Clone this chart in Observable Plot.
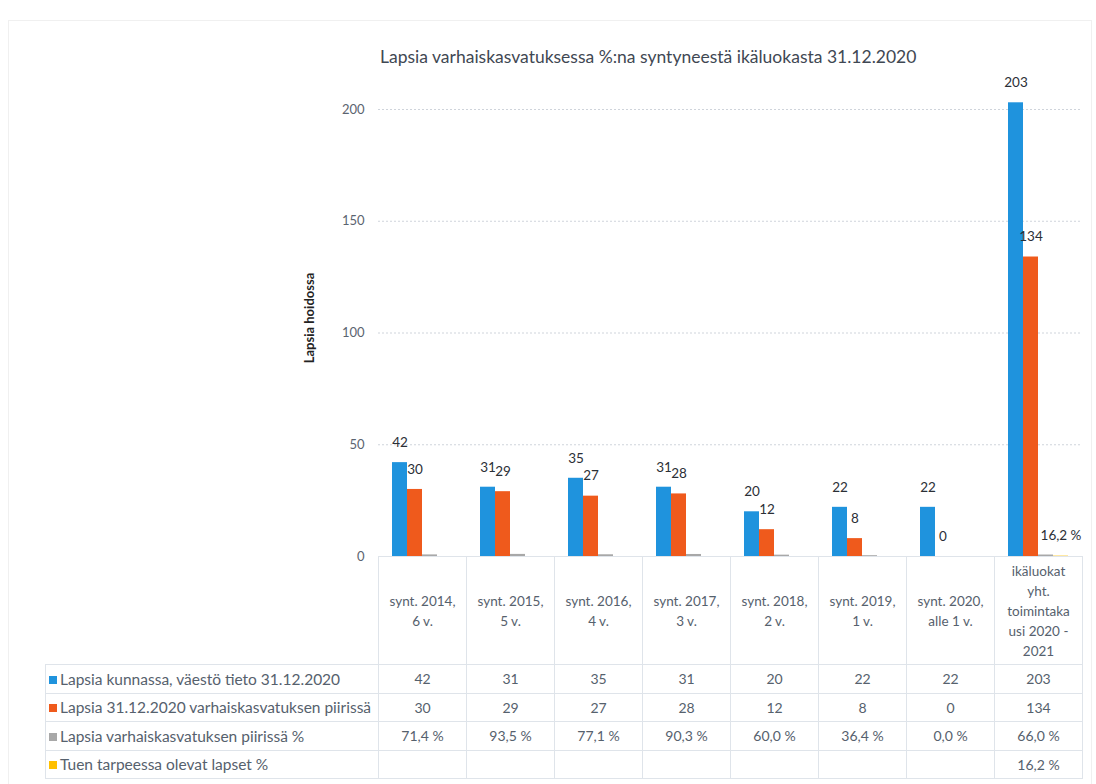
<!DOCTYPE html>
<html>
<head>
<meta charset="utf-8">
<script src="https://cdn.jsdelivr.net/npm/d3@7"></script>
<script src="https://cdn.jsdelivr.net/npm/@observablehq/plot@0.6"></script>
<style>
  html, body { margin: 0; padding: 0; background: #fff; }
  #wrap { position: relative; width: 1096px; height: 784px; font-family: Lato, "Open Sans", sans-serif; overflow: hidden; }
  #frame { position: absolute; left: 8px; top: 20px; width: 1082px; height: 770px; border: 1px solid #f0f0f0; }
  #title { position: absolute; left: 380px; top: 46px; font-size: 17.5px; color: #3f4853; white-space: nowrap; }
  #chart { position: absolute; left: 0; top: 60px; }
  #tbl { position: absolute; border-collapse: collapse; table-layout: fixed; font-size: 14px; color: #56616d; }
  #tbl td { border: 1px solid #dfe4ea; text-align: center; padding: 0; }
  #tbl td.hdr { white-space: pre-line; line-height: 20px; vertical-align: middle; font-size: 13.5px; }
  #tbl td.lab { text-align: left; padding-left: 3px; white-space: nowrap; font-size: 15.5px; }
  #tbl td.blank { border: none; }
  .key { display: inline-block; width: 8px; height: 8px; margin-right: 3px; vertical-align: 1px; }
</style>
</head>
<body>
<div id="wrap">
  <div id="frame"></div>
  <div id="title">Lapsia varhaiskasvatuksessa %:na syntyneestä ikäluokasta 31.12.2020</div>
  <div id="chart"></div>
</div>
<script>
// ---- data ----
const categories = [
  "synt. 2014,\n6 v.",
  "synt. 2015,\n5 v.",
  "synt. 2016,\n4 v.",
  "synt. 2017,\n3 v.",
  "synt. 2018,\n2 v.",
  "synt. 2019,\n1 v.",
  "synt. 2020,\nalle 1 v.",
  "ikäluokat\nyht.\ntoimintaka\nusi 2020 -\n2021"
];
const seriesNames = [
  "Lapsia kunnassa, väestö tieto 31.12.2020",
  "Lapsia 31.12.2020 varhaiskasvatuksen piirissä",
  "Lapsia varhaiskasvatuksen piirissä %",
  "Tuen tarpeessa olevat lapset %"
];
const seriesColors = ["#1f93dd", "#ef5a1c", "#a8a8a8", "#ffc000"];
const lapsiaKunnassa = [42, 31, 35, 31, 20, 22, 22, 203];
const lapsiaPiirissa = [30, 29, 27, 28, 12, 8, 0, 134];
const piirissaPct = [71.4, 93.5, 77.1, 90.3, 60.0, 36.4, 0.0, 66.0];
const tukiPct = [null, null, null, null, null, null, null, 16.2];
const yTicks = [0, 50, 100, 150, 200];
const yLabel = "Lapsia hoidossa";

// ---- build table for the library ----
const fmtPct = v => v == null ? "" : v.toFixed(1).replace(".", ",") + " %";
const rows = [];
categories.forEach((c, i) => {
  rows.push({cat: c, series: seriesNames[0], value: lapsiaKunnassa[i], label: String(lapsiaKunnassa[i])});
  rows.push({cat: c, series: seriesNames[1], value: lapsiaPiirissa[i], label: String(lapsiaPiirissa[i])});
  rows.push({cat: c, series: seriesNames[2], value: piirissaPct[i] / 100, label: ""});
  if (tukiPct[i] != null) rows.push({cat: c, series: seriesNames[3], value: tukiPct[i] / 100, label: fmtPct(tukiPct[i])});
});

const svgTop = 60;
const chart = Plot.plot({
  width: 1096,
  height: 497,
  marginLeft: 376,
  marginRight: 12,
  marginTop: 49,
  marginBottom: 1,
  style: {background: "transparent", overflow: "visible", fontFamily: "Lato, 'Open Sans', sans-serif"},
  fx: {domain: categories, paddingInner: 0, paddingOuter: 0, axis: null},
  x: {domain: seriesNames, paddingInner: 0, paddingOuter: 0.77, axis: null},
  y: {domain: [0, 200], axis: null},
  color: {domain: seriesNames, range: seriesColors},
  marks: [
    Plot.gridY(yTicks.filter(d => d > 0), {stroke: "#cfd4db", strokeOpacity: 1, strokeDasharray: "2,2"}),
    Plot.axisY({ticks: yTicks, tickSize: 0, tickPadding: 14, fontSize: 13, fill: "#5b6470", label: null}),
    Plot.text([yLabel], {frameAnchor: "left", textAnchor: "middle", rotate: -90, dx: -69, dy: -15, fontSize: 13, fontWeight: "bold", fill: "#222", facet: "super"}),
    Plot.barY(rows, {fx: "cat", x: "series", y: "value", fill: "series"}),
    Plot.text(rows, {fx: "cat", x: "series", y: "value", text: "label", dy: -20, fontSize: 13.5, fill: "#2b2f36"})
  ]
});
document.getElementById("chart").appendChild(chart);

// ---- data table laid out from the fx scale ----
const fx = chart.scale("fx");
const bw = fx.bandwidth;
const firstLeft = fx.apply(categories[0]);
const tableLeft = 45;
const tbl = document.createElement("table");
tbl.id = "tbl";
tbl.style.left = tableLeft + "px";
tbl.style.top = (svgTop + 497 - 1) + "px";
tbl.style.width = (firstLeft - tableLeft + bw * categories.length) + "px";
const cg = document.createElement("colgroup");
const c0 = document.createElement("col"); c0.style.width = (firstLeft - tableLeft) + "px"; cg.appendChild(c0);
categories.forEach(() => { const c = document.createElement("col"); c.style.width = bw + "px"; cg.appendChild(c); });
tbl.appendChild(cg);
const hr = tbl.insertRow();
hr.style.height = "108px";
const blank = hr.insertCell(); blank.className = "blank";
categories.forEach(c => { const td = hr.insertCell(); td.className = "hdr"; td.textContent = c; });
const tableValues = [
  lapsiaKunnassa.map(String),
  lapsiaPiirissa.map(String),
  piirissaPct.map(fmtPct),
  tukiPct.map(fmtPct)
];
seriesNames.forEach((s, k) => {
  const r = tbl.insertRow();
  r.style.height = "28.5px";
  const lab = r.insertCell(); lab.className = "lab";
  lab.innerHTML = `<span class="key" style="background:${seriesColors[k]}"></span>`;
  lab.appendChild(document.createTextNode(s));
  tableValues[k].forEach(v => { const td = r.insertCell(); td.textContent = v; });
});
document.getElementById("wrap").appendChild(tbl);
</script>
</body>
</html>
